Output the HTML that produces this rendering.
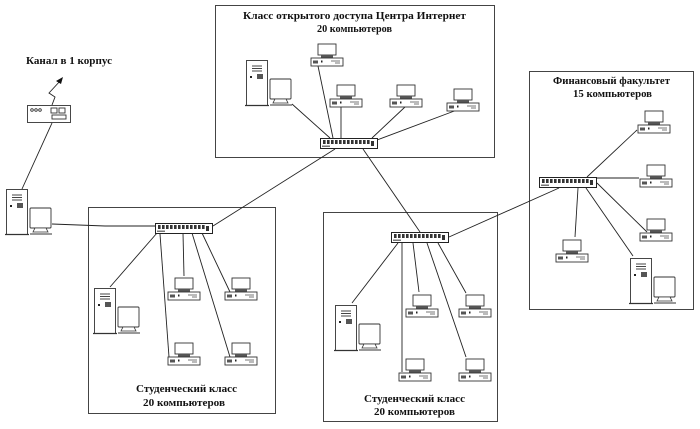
<!DOCTYPE html>
<html><head><meta charset="utf-8"><style>
html,body{margin:0;padding:0;background:#fff;width:700px;height:429px;overflow:hidden}
svg{display:block}
text{font-family:"Liberation Serif","Noto Serif CJK SC",serif;font-weight:bold;font-size:10px;fill:#111}
</style></head><body>
<svg width="700" height="429" viewBox="0 0 700 429" xmlns="http://www.w3.org/2000/svg">
<defs>
<g id="pc">
  <rect x="7" y="-14" width="18" height="11" fill="#fff" stroke="#333" stroke-width="0.9"/>
  <rect x="10" y="-3" width="12" height="3" fill="#555"/>
  <rect x="0" y="0" width="32" height="8" fill="#fff" stroke="#333" stroke-width="0.9"/>
  <rect x="2" y="2.5" width="5" height="3" fill="#555"/>
  <rect x="10" y="2.5" width="1.5" height="2" fill="#222"/>
  <line x1="20" y1="3" x2="29" y2="3" stroke="#555" stroke-width="0.8"/>
  <line x1="24" y1="5" x2="29" y2="5" stroke="#555" stroke-width="0.8"/>
</g>
<g id="srv">
  <rect x="0.5" y="0.5" width="21" height="45" fill="#fff" stroke="#333" stroke-width="0.9"/>
  <line x1="-1" y1="45.5" x2="23" y2="45.5" stroke="#333" stroke-width="1.2"/>
  <line x1="6" y1="6" x2="16" y2="6" stroke="#444"/>
  <line x1="6" y1="8.5" x2="16" y2="8.5" stroke="#444"/>
  <line x1="6" y1="11" x2="16" y2="11" stroke="#444"/>
  <rect x="4" y="16" width="2" height="2" fill="#222"/>
  <rect x="11" y="14" width="6" height="5" fill="#555"/>
  <rect x="24" y="19" width="21" height="20" rx="1" fill="#fff" stroke="#333" stroke-width="0.9"/>
  <path d="M29 39 L40 39 L42 43 L27 43 Z" fill="#fff" stroke="#333" stroke-width="0.8"/>
  <line x1="24" y1="45" x2="46" y2="45" stroke="#333" stroke-width="1"/>
</g>
<g id="sw">
  <rect x="0.5" y="0.5" width="57" height="10" fill="#fff" stroke="#222" stroke-width="1"/>
  <g fill="#333">
    <rect x="3" y="2" width="2.6" height="4"/><rect x="7" y="2" width="2.6" height="4"/><rect x="11" y="2" width="2.6" height="4"/><rect x="15" y="2" width="2.6" height="4"/><rect x="19" y="2" width="2.6" height="4"/><rect x="23" y="2" width="2.6" height="4"/><rect x="27" y="2" width="2.6" height="4"/><rect x="31" y="2" width="2.6" height="4"/><rect x="35" y="2" width="2.6" height="4"/><rect x="39" y="2" width="2.6" height="4"/><rect x="43" y="2" width="2.6" height="4"/><rect x="47" y="2" width="2.6" height="4"/>
    <rect x="51" y="3" width="3" height="5"/>
    <rect x="2" y="7.5" width="8" height="1.5" fill="#777"/>
  </g>
</g>
</defs>

<g fill="none" stroke="#444" stroke-width="1">
  <rect x="215.5" y="5.5" width="279" height="152"/>
  <rect x="88.5" y="207.5" width="187" height="206"/>
  <rect x="323.5" y="212.5" width="174" height="209"/>
  <rect x="529.5" y="71.5" width="164" height="238"/>
</g>

<g stroke="#222" stroke-width="0.9" fill="none">
  <line x1="213" y1="226" x2="335" y2="149"/>
  <line x1="363" y1="149" x2="420" y2="232"/>
  <line x1="449" y1="237" x2="559" y2="188"/>
  <polyline points="52,224 105,226 157,226"/>
  <line x1="52" y1="123" x2="22" y2="189"/>
  <line x1="292" y1="104" x2="330" y2="138"/>
  <line x1="318" y1="66" x2="333" y2="138"/>
  <line x1="341" y1="107" x2="341" y2="138"/>
  <line x1="405" y1="107" x2="372" y2="138"/>
  <line x1="457" y1="110" x2="377" y2="140"/>
  <line x1="157" y1="233" x2="110" y2="287"/>
  <line x1="160" y1="234" x2="169" y2="357"/>
  <line x1="183" y1="233" x2="184" y2="276"/>
  <line x1="192" y1="233" x2="230" y2="357"/>
  <line x1="202" y1="233" x2="230" y2="292"/>
  <line x1="398" y1="243" x2="352" y2="303"/>
  <line x1="402" y1="243" x2="402" y2="372"/>
  <line x1="413" y1="243" x2="419" y2="292"/>
  <line x1="427" y1="243" x2="466" y2="357"/>
  <line x1="438" y1="243" x2="466" y2="293"/>
  <line x1="587" y1="177" x2="637" y2="130"/>
  <line x1="597" y1="178" x2="639" y2="178"/>
  <line x1="597" y1="183" x2="647" y2="232"/>
  <line x1="578" y1="188" x2="575" y2="237"/>
  <line x1="586" y1="188" x2="633" y2="256"/>
  <polyline points="52,105 55,97 49,93 61,80"/>
</g>
<path d="M63 77 L56 81 L61 84 Z" fill="#111"/>

<g stroke="#333" stroke-width="0.9" fill="#fff">
  <rect x="27.5" y="105.5" width="43" height="17"/>
  <circle cx="32" cy="110" r="1.3"/><circle cx="36" cy="110" r="1.3"/><circle cx="40" cy="110" r="1.3"/>
  <rect x="51" y="108" width="6" height="5"/><rect x="59" y="108" width="6" height="5"/>
  <rect x="52" y="115" width="14" height="4"/>
</g>

<use href="#sw" x="320" y="138"/>
<use href="#sw" x="155" y="223"/>
<use href="#sw" x="391" y="232"/>
<use href="#sw" x="539" y="177"/>

<use href="#srv" x="246" y="60"/>
<use href="#srv" x="6" y="189"/>
<use href="#srv" x="94" y="288"/>
<use href="#srv" x="335" y="305"/>
<use href="#srv" x="630" y="258"/>

<use href="#pc" x="311" y="58"/>
<use href="#pc" x="330" y="99"/>
<use href="#pc" x="390" y="99"/>
<use href="#pc" x="447" y="103"/>
<use href="#pc" x="168" y="292"/>
<use href="#pc" x="225" y="292"/>
<use href="#pc" x="168" y="357"/>
<use href="#pc" x="225" y="357"/>
<use href="#pc" x="406" y="309"/>
<use href="#pc" x="459" y="309"/>
<use href="#pc" x="399" y="373"/>
<use href="#pc" x="459" y="373"/>
<use href="#pc" x="638" y="125"/>
<use href="#pc" x="640" y="179"/>
<use href="#pc" x="640" y="233"/>
<use href="#pc" x="556" y="254"/>

<text x="243" y="19" textLength="223" lengthAdjust="spacingAndGlyphs">Класс открытого доступа Центра Интернет</text>
<text x="317" y="32" textLength="75" lengthAdjust="spacingAndGlyphs">20 компьютеров</text>
<text x="26" y="64" textLength="86" lengthAdjust="spacingAndGlyphs">Канал в 1 корпус</text>
<text x="136" y="392" textLength="101" lengthAdjust="spacingAndGlyphs">Студенческий класс</text>
<text x="143" y="406" textLength="82" lengthAdjust="spacingAndGlyphs">20 компьютеров</text>
<text x="364" y="402" textLength="101" lengthAdjust="spacingAndGlyphs">Студенческий класс</text>
<text x="374" y="415" textLength="81" lengthAdjust="spacingAndGlyphs">20 компьютеров</text>
<text x="553" y="84" textLength="117" lengthAdjust="spacingAndGlyphs">Финансовый факультет</text>
<text x="573" y="97" textLength="79" lengthAdjust="spacingAndGlyphs">15 компьютеров</text>
</svg>
</body></html>
